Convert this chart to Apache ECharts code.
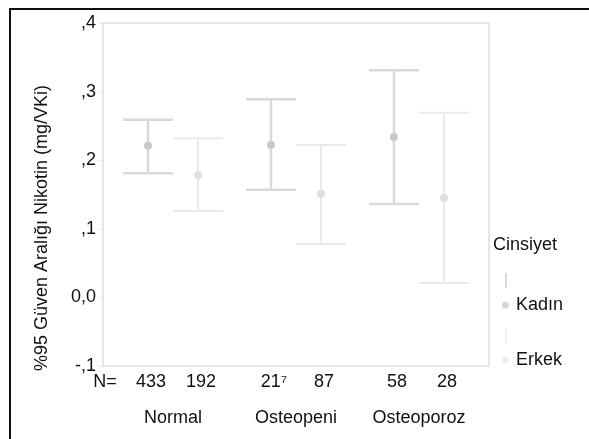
<!DOCTYPE html>
<html>
<head>
<meta charset="utf-8">
<script src="https://cdn.jsdelivr.net/npm/echarts@6/dist/echarts.min.js"></script>
<style>
  html, body { margin: 0; padding: 0; background: #fff; }
  #wrap { position: relative; width: 589px; height: 439px; overflow: hidden; }
  #frame { position: absolute; left: 9px; top: 8px; width: 620px; height: 470px; border: 2px solid #111; box-sizing: border-box; }
  #chart { position: absolute; left: 0; top: 0; width: 589px; height: 439px; }
</style>
</head>
<body>
<div id="wrap">
  <div id="frame"></div>
  <div id="chart"></div>
</div>
<script>
// groups on the x axis
const categories = ['Normal', 'Osteopeni', 'Osteoporoz']
const yTickLabels = ['-,1', '0,0', ',1', ',2', ',3', ',4']

// Kadın (women)
const kadinMean = [0.221, 0.222, 0.234]
const kadinHigh = [0.259, 0.289, 0.331]
const kadinLow = [0.181, 0.157, 0.136]
const kadinN = ['433', '21⁷', '58']

// Erkek (men)
const erkekMean = [0.178, 0.151, 0.145]
const erkekHigh = [0.232, 0.222, 0.269]
const erkekLow = [0.126, 0.078, 0.021]
const erkekN = ['192', '87', '28']

const FONT = '"Liberation Sans", Arial, sans-serif'
const TXT = '#111'

function makeRender(offset, nLabels, lineColor, markColor, lw) {
  return function (params, api) {
    const i = api.value(0)
    const hi = api.coord([i, api.value(2)])
    const mid = api.coord([i, api.value(1)])
    const lo = api.coord([i, api.value(3)])
    const x = mid[0] + offset
    const cap = 25
    const cs = params.coordSys
    const st = { stroke: lineColor, lineWidth: lw }
    return {
      type: 'group',
      children: [
        { type: 'line', shape: { x1: x, y1: hi[1], x2: x, y2: lo[1] }, style: st },
        { type: 'line', shape: { x1: x - cap, y1: hi[1], x2: x + cap, y2: hi[1] }, style: st },
        { type: 'line', shape: { x1: x - cap, y1: lo[1], x2: x + cap, y2: lo[1] }, style: st },
        { type: 'circle', shape: { cx: x, cy: mid[1], r: 4 }, style: { fill: markColor } },
        {
          type: 'text', x: x + 3, y: cs.y + cs.height + 16,
          style: { text: nLabels[params.dataIndex], fill: TXT, fontSize: 18, fontFamily: FONT, align: 'center', verticalAlign: 'middle' }
        }
      ]
    }
  }
}

const chart = echarts.init(document.getElementById('chart'))

const option = {
  animation: false,
  grid: {
    left: 103, top: 23, width: 386, height: 343,
    show: true, borderColor: '#e6e6e6', borderWidth: 2
  },
  xAxis: {
    type: 'value',
    min: -0.57, max: 2.57,
    axisLine: { show: false },
    axisTick: { show: false },
    splitLine: { show: false },
    axisLabel: {
      customValues: [0, 1, 2],
      formatter: function (v) { return categories[Math.round(v)] },
      margin: 43,
      color: TXT, fontSize: 18, fontFamily: FONT
    }
  },
  yAxis: {
    type: 'value',
    min: -0.1, max: 0.4, interval: 0.1,
    axisLine: { show: true, onZero: false, lineStyle: { color: '#e6e6e6', width: 2 } },
    axisTick: { show: true, length: 3, lineStyle: { color: '#e2e2e2' } },
    splitLine: { show: false },
    axisLabel: {
      formatter: function (v) { return yTickLabels[Math.round(v * 10) + 1] },
      margin: 7,
      color: TXT, fontSize: 18, fontFamily: FONT
    }
  },
  legend: {
    orient: 'vertical',
    left: 502, top: 296, padding: 0,
    itemWidth: 7, itemHeight: 7, itemGap: 37,
    icon: 'circle',
    textStyle: { color: TXT, fontSize: 18, fontFamily: FONT, padding: [0, 0, 0, 2] },
    data: ['Kadın', 'Erkek']
  },
  graphic: [
    {
      type: 'text', x: 42, y: 228, rotation: Math.PI / 2,
      style: { text: '%95 Güven Aralığı Nikotin (mg/VKi)', fill: TXT, fontSize: 18, fontFamily: FONT, align: 'center', verticalAlign: 'middle' }
    },
    {
      type: 'text', x: 105, y: 382,
      style: { text: 'N=', fill: TXT, fontSize: 18, fontFamily: FONT, align: 'center', verticalAlign: 'middle' }
    },
    {
      type: 'text', x: 493, y: 245,
      style: { text: 'Cinsiyet', fill: TXT, fontSize: 18, fontFamily: FONT, align: 'left', verticalAlign: 'middle' }
    },
    { type: 'line', shape: { x1: 506, y1: 273, x2: 506, y2: 288 }, style: { stroke: '#dadada', lineWidth: 2 } },
    { type: 'line', shape: { x1: 506, y1: 328, x2: 506, y2: 343 }, style: { stroke: '#efefef', lineWidth: 2 } }
  ],
  series: [
    {
      name: 'Kadın',
      type: 'custom',
      itemStyle: { color: '#d6d6d6' },
      renderItem: makeRender(-25, kadinN, '#d9d9d9', '#c8c8c8', 2.5),
      data: categories.map((c, i) => [i, kadinMean[i], kadinHigh[i], kadinLow[i]]),
      clip: false
    },
    {
      name: 'Erkek',
      type: 'custom',
      itemStyle: { color: '#ececec' },
      renderItem: makeRender(25, erkekN, '#eaeaea', '#e0e0e0', 2),
      data: categories.map((c, i) => [i, erkekMean[i], erkekHigh[i], erkekLow[i]]),
      clip: false
    }
  ]
}

chart.setOption(option)
</script>
</body>
</html>
